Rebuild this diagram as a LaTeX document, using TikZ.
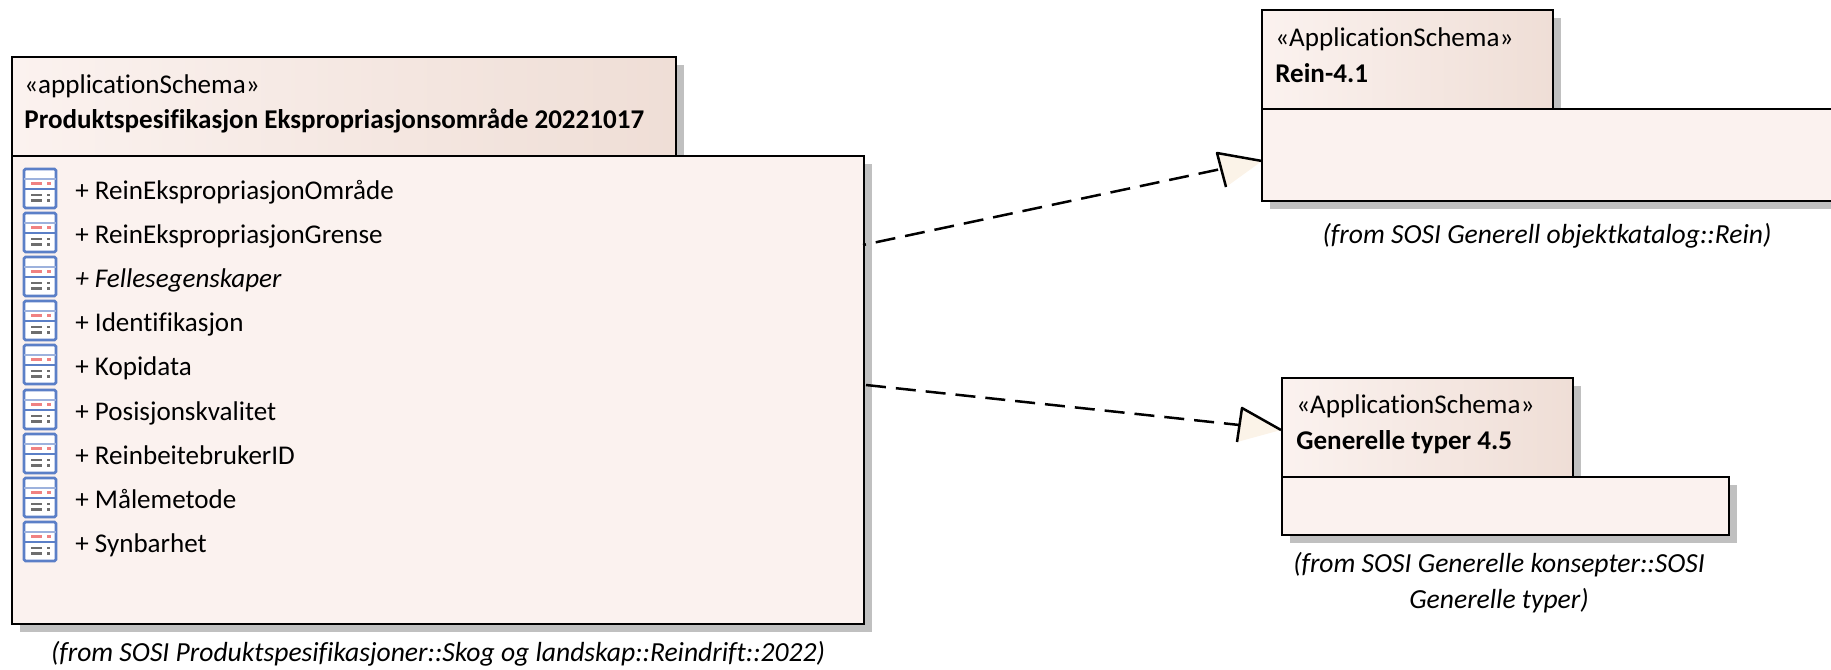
\documentclass[tikz,border=0pt]{standalone}
\usepackage{fontspec}
\usepackage{xcolor}
\usetikzlibrary{shadows}
\setmainfont{Carlito}[Ligatures=CommonOff]
\definecolor{pkg}{RGB}{251, 242, 239}
\definecolor{pkgdark}{RGB}{239, 222, 214}
\definecolor{hed}{RGB}{251, 243, 232}
\definecolor{shd}{RGB}{192, 192, 192}
\definecolor{ico}{RGB}{91, 127, 199}
\definecolor{icored}{RGB}{240, 130, 130}
\definecolor{icogray}{RGB}{110, 110, 110}
\tikzset{
  pkgbox/.style={draw=black, line width=0.5mm, anchor=north west, inner sep=0pt, outer sep=0pt,
    drop shadow={shadow xshift=1.6mm, shadow yshift=-1.6mm, opacity=1, fill=shd}},
  pkgtab/.style={pkgbox, left color=pkg, right color=pkgdark},
  pkgbody/.style={pkgbox, fill=pkg},
  txt/.style={anchor=base west, inner sep=0pt, font=\fontsize{15.4}{18}\selectfont},
  captxt/.style={anchor=center, inner sep=0pt, align=center, font=\fontsize{15.7}{20.5}\selectfont\itshape},
  dep/.style={draw=black, line width=0.5mm, dash pattern=on 4mm off 2mm},
  headfill/.style={fill=hed},
  headline/.style={draw=black, line width=0.5mm, line join=round},
  tblicon/.pic={
    \draw[draw=ico, fill=white, line width=0.55mm, rounded corners=0.3mm] (0, 0) rectangle (32, 39);
    \draw[draw=ico!60, line width=0.35mm] (0, 10)--(32, 10);
    \draw[draw=ico, line width=0.45mm] (0, 20)--(32, 20);
    \draw[draw=icored, line width=0.55mm] (7, 14.5)--(18, 14.5);
    \draw[draw=icored, line width=0.55mm] (23, 14.5)--(27, 14.5);
    \draw[draw=icogray, line width=0.55mm] (7, 26)--(18, 26);
    \draw[draw=icogray, line width=0.55mm] (7, 31.5)--(18, 31.5);
    \draw[draw=icogray, line width=0.55mm] (23, 26)--(26, 26);
    \draw[draw=icogray, line width=0.55mm] (23, 31.5)--(26, 31.5);
  }
}

\begin{document}
\begin{tikzpicture}[x=0.2mm, y=-0.2mm]
  \useasboundingbox (0, 0) rectangle (1831, 669);
  \node[pkgtab, minimum width=132.8mm, minimum height=19.8mm] (prodTab) at (12, 57) {};
  \node[pkgbody, minimum width=170.4mm, minimum height=93.6mm] (prodBody) at (12, 156) {};
  \node[pkgtab, minimum width=58.2mm, minimum height=19.8mm] (reinTab) at (1262, 10) {};
  \node[pkgbody, minimum width=120mm, minimum height=18.4mm] (reinBody) at (1262, 109) {};
  \node[pkgtab, minimum width=58.2mm, minimum height=19.8mm] (typerTab) at (1282, 378) {};
  \node[pkgbody, minimum width=89.4mm, minimum height=11.6mm] (typerBody) at (1282, 477) {};

  \node[txt] (prodStereo) at (24, 93) {«applicationSchema»};
  \node[txt] (prodName) at (24, 128) {\bfseries Produktspesifikasjon Ekspropriasjonsområde 20221017};
  \node[txt] (reinStereo) at (1275, 46) {«ApplicationSchema»};
  \node[txt] (reinName) at (1275, 82) {\bfseries Rein-4.1};
  \node[txt] (typerStereo) at (1296, 413) {«ApplicationSchema»};
  \node[txt] (typerName) at (1296, 449) {\bfseries Generelle typer 4.5};

  \pic at (24, 169) {tblicon};
  \pic at (24, 213) {tblicon};
  \pic at (24, 257) {tblicon};
  \pic at (24, 301) {tblicon};
  \pic at (24, 345) {tblicon};
  \pic at (24, 390) {tblicon};
  \pic at (24, 434) {tblicon};
  \pic at (24, 478) {tblicon};
  \pic at (24, 522) {tblicon};
  \node[txt] (rowA) at (75, 199) {+ ReinEkspropriasjonOmråde};
  \node[txt] (rowB) at (75, 243) {+ ReinEkspropriasjonGrense};
  \node[txt] (rowC) at (75, 287) {\itshape + Fellesegenskaper};
  \node[txt] (rowD) at (75, 331) {+ Identifikasjon};
  \node[txt] (rowE) at (75, 375) {+ Kopidata};
  \node[txt] (rowF) at (75, 420) {+ Posisjonskvalitet};
  \node[txt] (rowG) at (75, 464) {+ ReinbeitebrukerID};
  \node[txt] (rowH) at (75, 508) {+ Målemetode};
  \node[txt] (rowI) at (75, 552) {+ Synbarhet};

  \node[captxt] (prodCap) at (438, 654) {(from SOSI Produktspesifikasjoner::Skog og landskap::Reindrift::2022)};
  \node[captxt] (reinCap) at (1547, 236) {(from SOSI Generell objektkatalog::Rein)};
  \node[captxt] (typerCap) at (1499, 583) {(from SOSI Generelle konsepter::SOSI\\Generelle typer)};

  \coordinate (reinTip) at (1262, 161);
  \coordinate (reinWingA) at (1217, 153);
  \coordinate (reinWingB) at (1226, 187);
  \coordinate (reinFoot) at (1221, 169);
  \coordinate (reinStart) at (863, 245);
  \coordinate (typerTip) at (1281, 430);
  \coordinate (typerWingA) at (1242, 408);
  \coordinate (typerWingB) at (1237, 442);
  \coordinate (typerFoot) at (1239.5, 425);
  \coordinate (typerStart) at (866, 385);

  \fill[headfill] (reinTip)--(reinWingA)--(reinWingB)--cycle;
  \draw[headline] (reinWingB)--(reinWingA)--(reinTip);
  \draw[dep, dash phase=3.4mm] (reinStart)--(reinFoot);
  \fill[headfill] (typerTip)--(typerWingA)--(typerWingB)--cycle;
  \draw[headline] (typerWingB)--(typerWingA)--(typerTip);
  \draw[dep] (typerStart)--(typerFoot);
\end{tikzpicture}
\end{document}
